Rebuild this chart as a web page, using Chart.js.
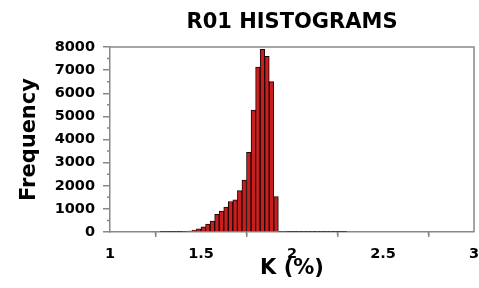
<!DOCTYPE html>
<html>
<head>
<meta charset="utf-8">
<script src="https://cdn.jsdelivr.net/npm/chart.js@4.4.1/dist/chart.umd.min.js"></script>
<style>
  html, body { margin: 0; padding: 0; background: #fff; }
  #wrap { width: 479px; height: 288px; }
</style>
</head>
<body>
<div id="wrap"><canvas id="chart"></canvas></div>
<script>
// K (%) histogram bins, left edge of each bin
const binWidth = 0.025;
const binEdges = [
    1.275, 1.300, 1.325, 1.350, 1.375, 1.400, 1.425, 1.450, 1.475, 1.500,
    1.525, 1.550, 1.575, 1.600, 1.625, 1.650, 1.675, 1.700, 1.725, 1.750,
    1.775, 1.800, 1.825, 1.850, 1.875, 1.900, 1.925, 1.950, 1.975, 2.000,
    2.025, 2.050, 2.075, 2.100, 2.125, 2.150, 2.175, 2.200, 2.225, 2.250,
    2.275
];
const counts = [
    3, 5, 8, 12, 18, 28, 45, 80, 140, 220,
    340, 470, 760, 900, 1080, 1320, 1390, 1790, 2250, 3450,
    5270, 7130, 7900, 7600, 6500, 1530, 30, 20, 15, 10,
    8, 6, 5, 4, 3, 3, 2, 2, 2, 1,
    1
];

// axis ticks
const xTicks = [1, 1.5, 2, 2.5, 3];
const xMinorTicks = [1.25, 1.75, 2.25, 2.75];
const yTicks = [0, 1000, 2000, 3000, 4000, 5000, 6000, 7000, 8000];
const yMinorTicks = [500, 1500, 2500, 3500, 4500, 5500, 6500, 7500];

const FONT = '"DejaVu Sans", sans-serif';
const AXIS_GRAY = '#888';

// frame on top/right, minor ticks and the main title
const framePlugin = {
    id: 'frame',
    afterDraw(chart) {
        const { ctx, chartArea: a, scales: { x, y } } = chart;
        ctx.save();
        ctx.strokeStyle = AXIS_GRAY;
        ctx.lineWidth = 1.5;
        ctx.beginPath();
        ctx.moveTo(a.left, a.top);
        ctx.lineTo(a.right, a.top);
        ctx.lineTo(a.right, a.bottom);
        yMinorTicks.forEach(v => {
            const py = y.getPixelForValue(v);
            ctx.moveTo(a.left - 3, py);
            ctx.lineTo(a.left, py);
        });
        xMinorTicks.forEach(v => {
            const px = x.getPixelForValue(v);
            ctx.moveTo(px, a.bottom);
            ctx.lineTo(px, a.bottom + 3);
        });
        ctx.stroke();

        ctx.fillStyle = '#000';
        ctx.font = 'bold 21px ' + FONT;
        ctx.textAlign = 'center';
        ctx.textBaseline = 'alphabetic';
        ctx.fillText('R01 HISTOGRAMS', (a.left + a.right) / 2, 28);
        ctx.restore();
    }
};

const ctx = document.getElementById('chart');
new Chart(ctx, {
    type: 'bar',
    data: {
        datasets: [{
            label: 'Frequency',
            data: binEdges.map((e, i) => ({ x: e + binWidth / 2, y: counts[i] })),
            backgroundColor: '#c81e1e',
            borderColor: '#1a0505',
            borderWidth: 1,
            barPercentage: 1,
            categoryPercentage: 1
        }]
    },
    options: {
        responsive: true,
        maintainAspectRatio: false,
        devicePixelRatio: 1,
        animation: false,
        layout: { padding: { top: 47, right: 5, left: 0, bottom: 0 } },
        plugins: {
            legend: { display: false },
            tooltip: { enabled: false }
        },
        scales: {
            x: {
                type: 'linear',
                min: 1,
                max: 3,
                offset: false,
                afterBuildTicks: scale => { scale.ticks = xTicks.map(v => ({ value: v })); },
                afterFit: scale => {
                    scale.height = 56;
                    scale.paddingLeft = 0;
                    scale.paddingRight = 0;
                },
                ticks: {
                    color: '#000',
                    padding: 9,
                    maxRotation: 0,
                    font: { family: FONT, size: 14.5, weight: 'bold' },
                    callback: v => String(v)
                },
                grid: {
                    drawOnChartArea: false,
                    drawTicks: true,
                    tickLength: 5,
                    color: AXIS_GRAY,
                    lineWidth: 1.5
                },
                border: { display: true, color: AXIS_GRAY, width: 1.5 },
                title: {
                    display: true,
                    text: 'K (%)',
                    color: '#000',
                    font: { family: FONT, size: 21, weight: 'bold' },
                    padding: { top: 0, bottom: 6.5 }
                }
            },
            y: {
                min: 0,
                max: 8000,
                afterBuildTicks: scale => { scale.ticks = yTicks.map(v => ({ value: v })); },
                afterFit: scale => { scale.width = 110; },
                ticks: {
                    color: '#000',
                    padding: 8,
                    font: { family: FONT, size: 14.5, weight: 'bold' },
                    callback: v => String(v)
                },
                grid: {
                    drawOnChartArea: false,
                    drawTicks: true,
                    tickLength: 7,
                    color: AXIS_GRAY,
                    lineWidth: 1.5
                },
                border: { display: true, color: AXIS_GRAY, width: 1.5 },
                title: {
                    display: true,
                    text: 'Frequency',
                    color: '#000',
                    font: { family: FONT, size: 21, weight: 'bold' },
                    padding: { top: 17, bottom: 0 }
                }
            }
        }
    },
    plugins: [framePlugin]
});
</script>
</body>
</html>
